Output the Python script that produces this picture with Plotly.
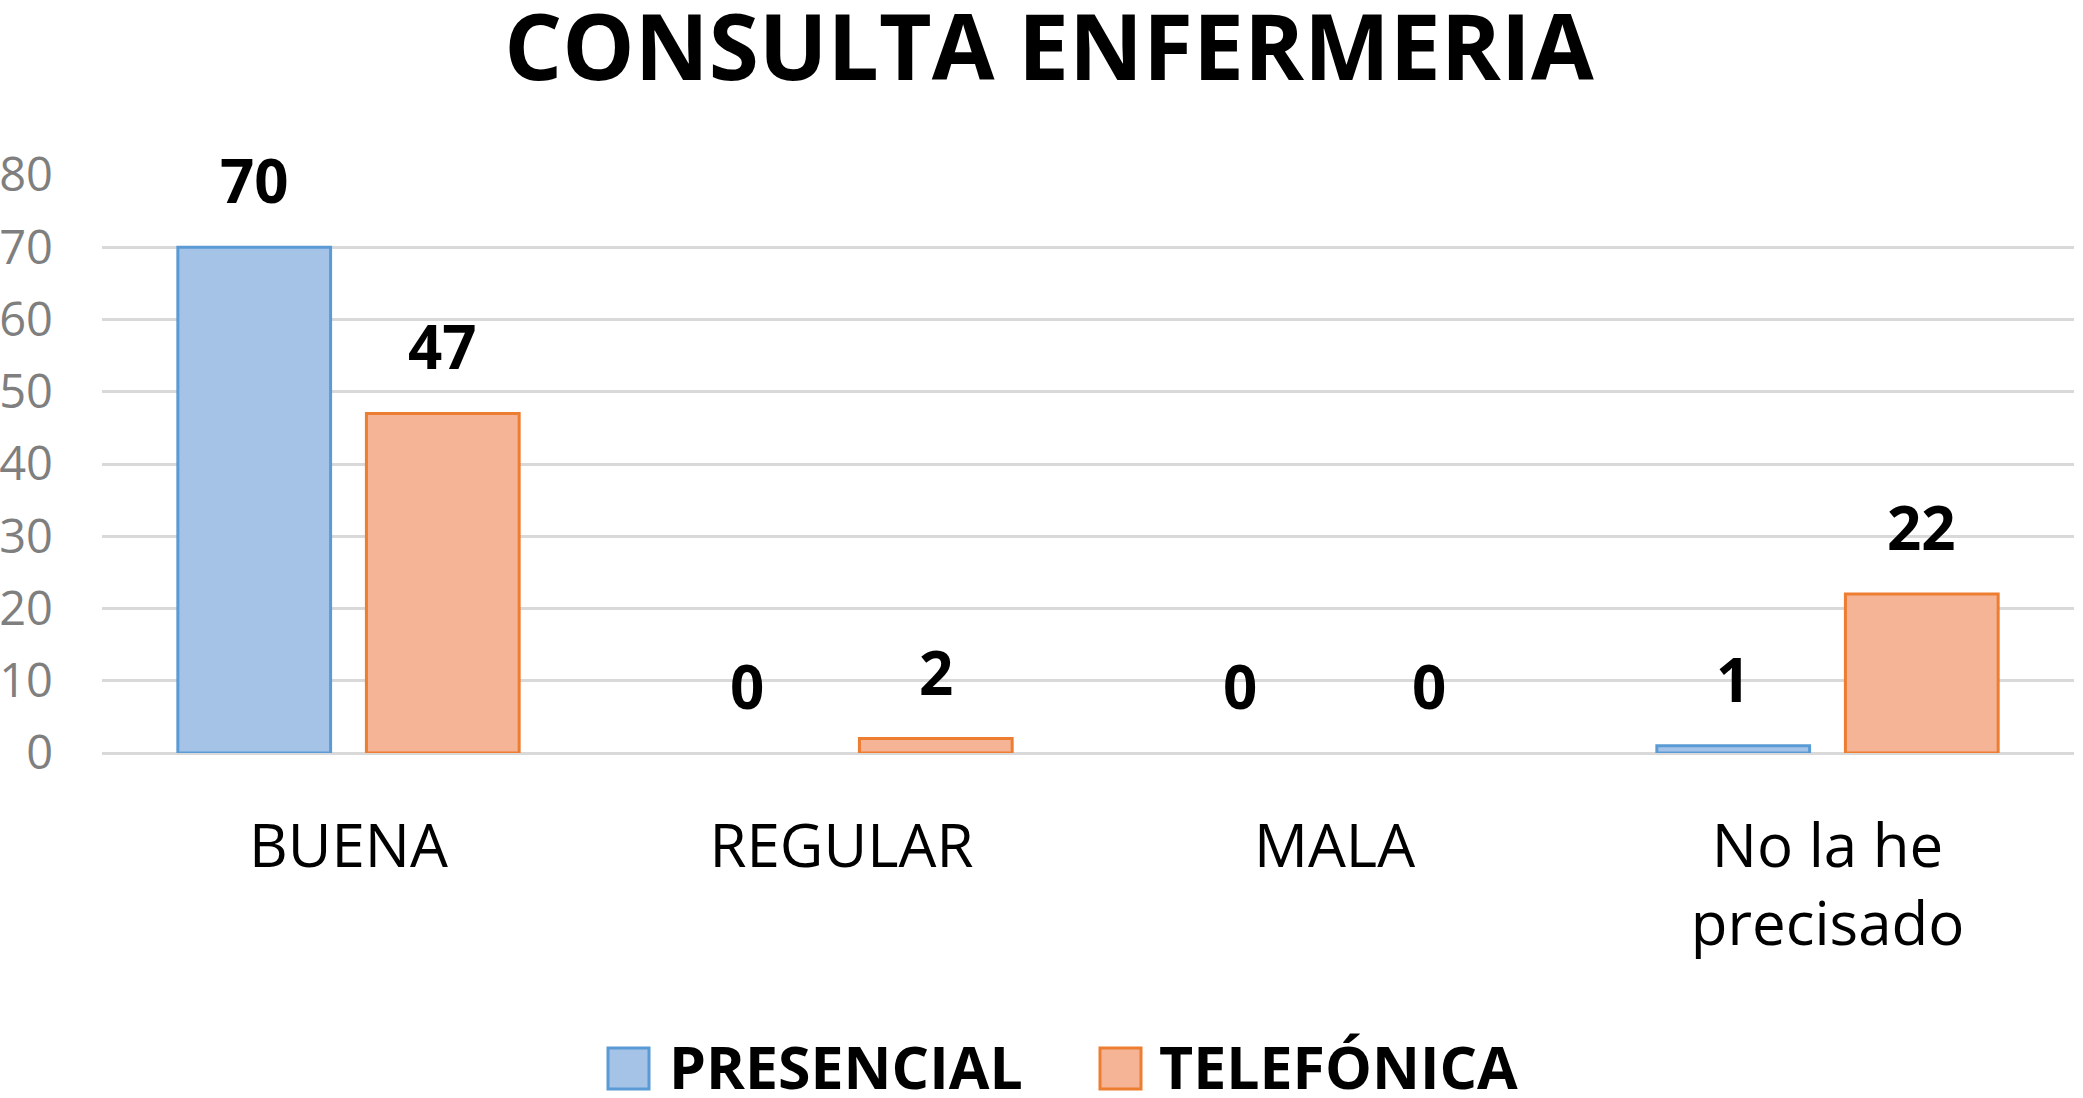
import plotly.graph_objects as go

# ---- data ----
categories = ["BUENA", "REGULAR", "MALA", "No la he<br>precisado"]
series_names = ["PRESENCIAL", "TELEFÓNICA"]
presencial = [70, 0, 0, 1]
telefonica = [47, 2, 0, 22]
y_ticks = [0, 10, 20, 30, 40, 50, 60, 70, 80]

# ---- styling ----
W, H = 2083, 1098
L, R, T, B = 102, 9, 175, 345
FONT = "Open Sans"
fills = ["#a5c2e7", "#f5b496"]
lines = ["#5b9bd5", "#ed7d31"]
slot_px = 188.5  # distance between bar centres within a group


def px_x(px):  # page pixel -> paper x
    return (px - L) / (W - L - R)


def px_y(py):  # page pixel -> paper y
    return (H - B - py) / (H - T - B)


fig = go.Figure()
for name, vals, fc, lc in zip(series_names, [presencial, telefonica], fills, lines):
    fig.add_trace(go.Bar(
        x=categories, y=vals, name=name,
        marker=dict(color=fc, line=dict(color=lc, width=[3 if v else 0 for v in vals])),
        showlegend=False,
    ))

# value labels above bars
for i, vals in enumerate([presencial, telefonica]):
    shift = (-0.5 + i) * slot_px
    for c, v in zip(categories, vals):
        fig.add_annotation(
            x=c, y=v, xref="x", yref="y", text=f"<b>{v}</b>",
            showarrow=False, xshift=shift, yshift=67, yanchor="middle",
            font=dict(family=FONT, size=60, color="black"),
        )

# custom legend (large squares as in the reference)
legend_items = [(series_names[0], 608, 667), (series_names[1], 1100, 1157)]
for (name, sq_x, tx), fc, lc in zip(legend_items, fills, lines):
    fig.add_shape(type="rect", xref="paper", yref="paper",
                  x0=px_x(sq_x), x1=px_x(sq_x + 41),
                  y0=px_y(1048), y1=px_y(1089),
                  fillcolor=fc, line=dict(color=lc, width=3))
    fig.add_annotation(x=px_x(tx), y=px_y(1066), xref="paper", yref="paper",
                       text=f"<b>{name}</b>", showarrow=False,
                       xanchor="left", yanchor="middle",
                       font=dict(family=FONT, size=59, color="black"))

fig.update_layout(
    width=W, height=H,
    margin=dict(l=L, r=R, t=T, b=B),
    paper_bgcolor="white", plot_bgcolor="white",
    barmode="group", bargap=0.235, bargroupgap=0.19,
    title=dict(text="<b>CONSULTA ENFERMERIA</b>", x=1049 / W, xref="container",
               y=1 - 48 / H, yref="container", xanchor="center", yanchor="middle",
               font=dict(family=FONT, size=91, color="black")),
    font=dict(family=FONT),
)
fig.update_yaxes(range=[0, 80], tickvals=y_ticks, showgrid=True,
                 gridcolor="#d9d9d9", gridwidth=3, zeroline=True,
                 zerolinecolor="#d9d9d9", zerolinewidth=3, showline=False,
                 tickfont=dict(family=FONT, size=47, color="#7f7f7f"),
                 ticklabelstandoff=48, automargin=False)
fig.update_xaxes(showgrid=False, showline=False, ticks="",
                 tickfont=dict(family=FONT, size=60, color="black"),
                 ticklabelstandoff=53, automargin=False)

fig.write_html("out.html", config={"displayModeBar": False},
               post_script="document.body.style.margin='0';document.body.style.overflow='hidden';")
